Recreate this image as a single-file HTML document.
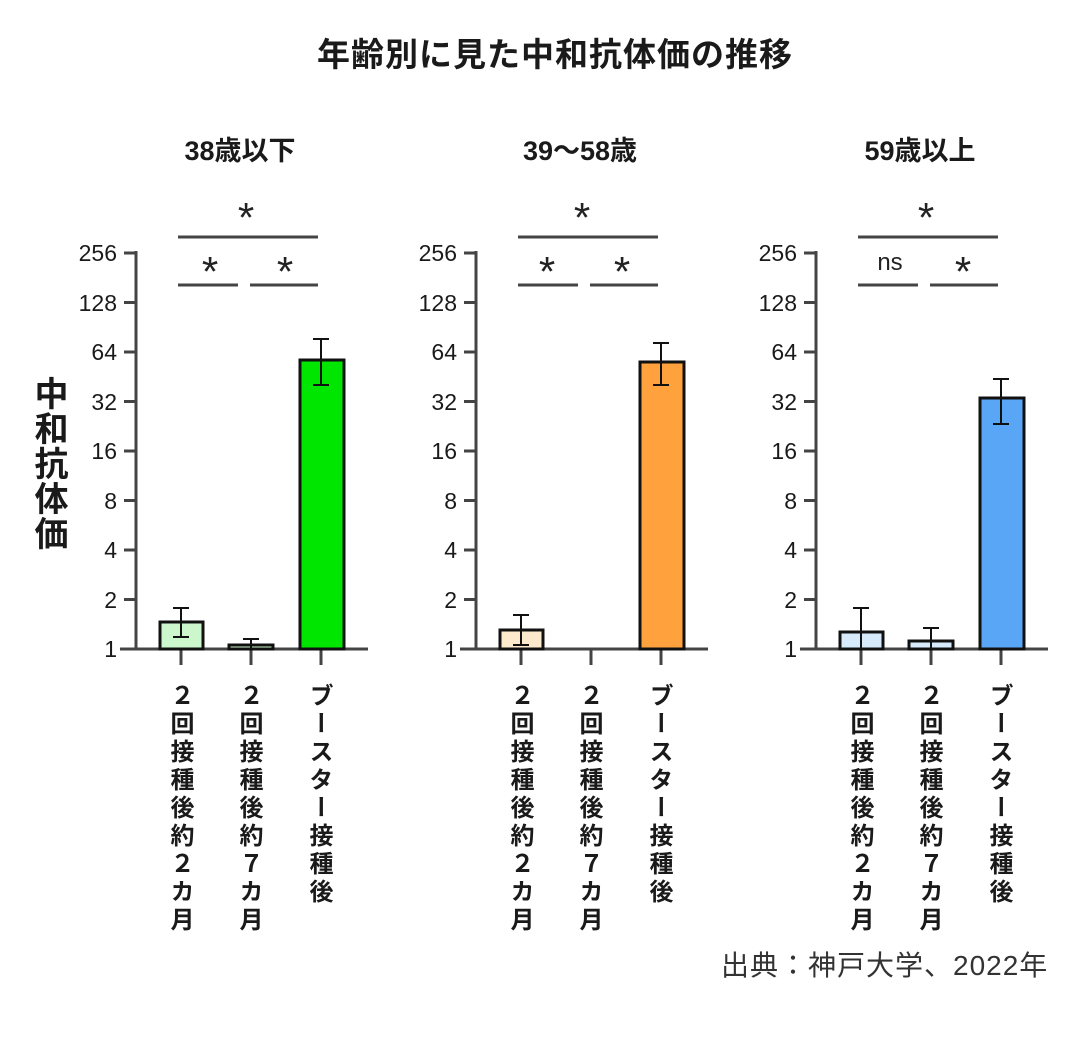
<!DOCTYPE html>
<html><head><meta charset="utf-8"><style>
body{margin:0;width:1080px;height:1040px;background:#fff;position:relative;overflow:hidden;font-family:"Liberation Sans","Noto Sans CJK JP",sans-serif;color:#222}
.v{position:absolute;top:683px;writing-mode:vertical-rl;text-orientation:upright;font-size:24px;letter-spacing:4px;font-weight:bold;line-height:24px;color:#1a1a1a;font-family:"Noto Sans CJK JP",sans-serif}
.t{position:absolute;font-weight:bold;font-family:"Liberation Sans","Noto Sans CJK JP",sans-serif;color:#1a1a1a}
</style></head><body>
<div class="t" style="left:280px;width:550px;top:28px;text-align:center;font-size:33px;letter-spacing:1px">年齢別に見た中和抗体価の推移</div>
<div class="t" style="left:140px;width:200px;top:129px;text-align:center;font-size:27px">38歳以下</div>
<div class="t" style="left:480px;width:200px;top:129px;text-align:center;font-size:27px">39～58歳</div>
<div class="t" style="left:820px;width:200px;top:129px;text-align:center;font-size:27px">59歳以上</div>
<div class="t" style="left:31px;top:376px;writing-mode:vertical-rl;text-orientation:upright;font-size:34px;line-height:34px;letter-spacing:1px">中和抗体価</div>
<div style="position:absolute;left:721px;top:944px;font-size:28px;letter-spacing:1px;color:#333;font-family:'Liberation Sans','Noto Sans CJK JP',sans-serif">出典：神戸大学、2022年</div>

<svg width="1080" height="1040" style="position:absolute;left:0;top:0" font-family="Liberation Sans, sans-serif">
<defs>
<g id="ax" stroke="#444" stroke-width="3" fill="none">
<line x1="136" y1="251" x2="136" y2="650"/>
<line x1="120" y1="649" x2="368" y2="649"/>
<line x1="124" y1="253" x2="136" y2="253"/><line x1="124" y1="302.5" x2="136" y2="302.5"/>
<line x1="124" y1="352" x2="136" y2="352"/><line x1="124" y1="401.5" x2="136" y2="401.5"/>
<line x1="124" y1="451" x2="136" y2="451"/><line x1="124" y1="500.5" x2="136" y2="500.5"/>
<line x1="124" y1="550" x2="136" y2="550"/><line x1="124" y1="599.5" x2="136" y2="599.5"/>
<line x1="181" y1="649" x2="181" y2="665"/><line x1="251" y1="649" x2="251" y2="665"/><line x1="321" y1="649" x2="321" y2="665"/>
<line x1="178" y1="237" x2="318" y2="237"/>
<line x1="178" y1="285" x2="238" y2="285"/><line x1="250" y1="285" x2="318" y2="285"/>
</g>
<g id="lb" font-size="23" fill="#1a1a1a" text-anchor="end">
<text x="117" y="261">256</text><text x="117" y="311">128</text><text x="117" y="360">64</text>
<text x="117" y="410">32</text><text x="117" y="459">16</text><text x="117" y="509">8</text>
<text x="117" y="558">4</text><text x="117" y="608">2</text><text x="117" y="657">1</text>
</g>
</defs>
<use href="#ax"/><use href="#lb"/>
<g font-size="42" fill="#222" text-anchor="middle"><text x="246" y="232">*</text><text x="210" y="286">*</text><text x="285" y="286">*</text></g>
<g stroke="#111" stroke-width="3">
<rect x="160" y="622" width="43" height="27" fill="#ccf7cc"/>
<rect x="229" y="645" width="44" height="4" fill="#ccf7cc"/>
<rect x="300" y="360" width="44" height="289" fill="#00e600"/>
<path d="M181 608V637M173 608H189M173 637H189M251 639V649M243 639H259M321 339V385M313 339H329M313 385H329" fill="none" stroke-width="2"/>
</g>
<g transform="translate(340,0)">
<use href="#ax"/><use href="#lb"/>
<g font-size="42" fill="#222" text-anchor="middle"><text x="242" y="232">*</text><text x="207" y="286">*</text><text x="282" y="286">*</text></g>
<g stroke="#111" stroke-width="3">
<rect x="160" y="630" width="43" height="19" fill="#fde9cc"/>
<rect x="300" y="362" width="44" height="287" fill="#ffa23d"/>
<path d="M181 615V645M173 615H189M173 645H189M321 343V385M313 343H329M313 385H329" fill="none" stroke-width="2"/>
</g></g>
<g transform="translate(680,0)">
<use href="#ax"/><use href="#lb"/>
<g font-size="42" fill="#222" text-anchor="middle"><text x="246" y="232">*</text><text x="283" y="286">*</text></g>
<text x="210" y="270" font-size="24" fill="#222" text-anchor="middle">ns</text>
<g stroke="#111" stroke-width="3">
<rect x="160" y="632" width="43" height="17" fill="#d6eafc"/>
<rect x="229" y="641" width="44" height="8" fill="#d6eafc"/>
<rect x="300" y="398" width="44" height="251" fill="#5aa6f6"/>
<path d="M181 608V649M173 608H189M251 628V649M243 628H259M321 379V424M313 379H329M313 424H329" fill="none" stroke-width="2"/>
</g></g>
</svg>

<div class="v" style="left:170px">２回接種後約２カ月</div>
<div class="v" style="left:239px">２回接種後約７カ月</div>
<div class="v" style="left:309px">ブースター接種後</div>
<div class="v" style="left:510px">２回接種後約２カ月</div>
<div class="v" style="left:579px">２回接種後約７カ月</div>
<div class="v" style="left:649px">ブースター接種後</div>
<div class="v" style="left:850px">２回接種後約２カ月</div>
<div class="v" style="left:919px">２回接種後約７カ月</div>
<div class="v" style="left:989px">ブースター接種後</div>
</body></html>
